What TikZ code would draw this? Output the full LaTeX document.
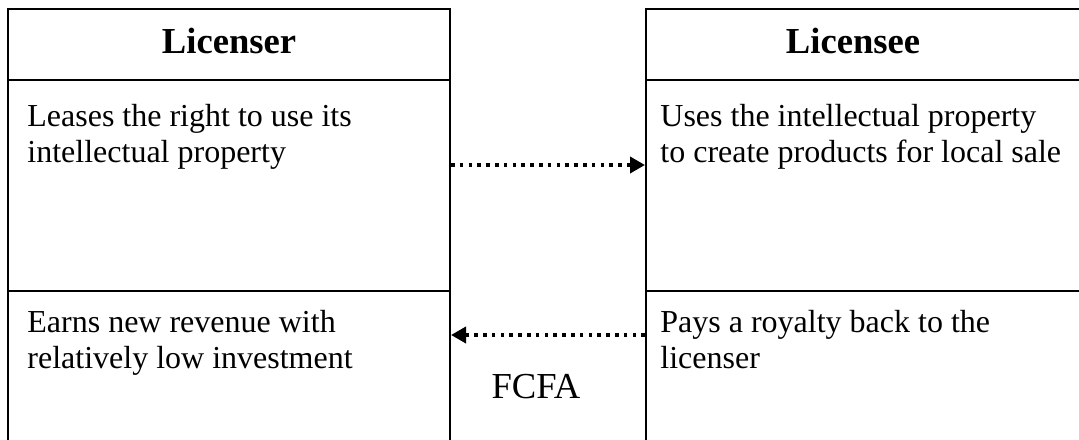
\documentclass[tikz,border=0pt]{standalone}
\usepackage{fontspec}
\setmainfont{Liberation Serif}
\usetikzlibrary{arrows.meta}
\tikzset{
  rule/.style={line width=1pt, line cap=rect},
  cell/.style={anchor=base west, align=left, inner sep=0pt,
    font=\fontsize{16}{17.75}\selectfont},
  head/.style={anchor=base, inner sep=0pt, font=\fontsize{18.3}{20}\selectfont\bfseries},
  flow/.style={line width=1.8pt, dash pattern=on 1.8pt off 2.6pt,
    -{Triangle[length=7.5pt,width=8pt]}, shorten >=0pt},
}
\begin{document}
\begin{tikzpicture}[x=0.5pt, y=-0.5pt]
\useasboundingbox (0,0) rectangle (1079,439);
% left table
\draw[rule] (8,439) -- (8,9) -- (450,9) -- (450,439);
\draw[rule] (8,80) -- (450,80);
\draw[rule] (8,291) -- (450,291);
% right table
\draw[rule] (646,439) -- (646,9) -- (1079,9);
\draw[rule] (646,80) -- (1079,80);
\draw[rule] (646,291) -- (1079,291);
% headings
\node[head] (hl) at (229,53) {Licenser};
\node[head] (hr) at (853,53) {Licensee};
% cells (anchored at the baseline of their last line)
\node[cell] (l1) at (27,162) {Leases the right to use its\\intellectual property};
\node[cell] (r1) at (660,162) {Uses the intellectual property\\to create products for local sale};
\node[cell] (l2) at (27,368) {Earns new revenue with\\relatively low investment};
\node[cell] (r2) at (660,368) {Pays a royalty back to the\\licenser};
\node[anchor=base, inner sep=0pt, font=\fontsize{18.3}{20}\selectfont] (fc) at (536,398) {FCFA};
% connectors
\coordinate (a1) at (451,165);
\coordinate (b1) at (645,165);
\coordinate (a2) at (645,335);
\coordinate (b2) at (451,335);
\draw[flow] (a1) -- (b1);
\draw[flow] (a2) -- (b2);
\end{tikzpicture}
\end{document}
